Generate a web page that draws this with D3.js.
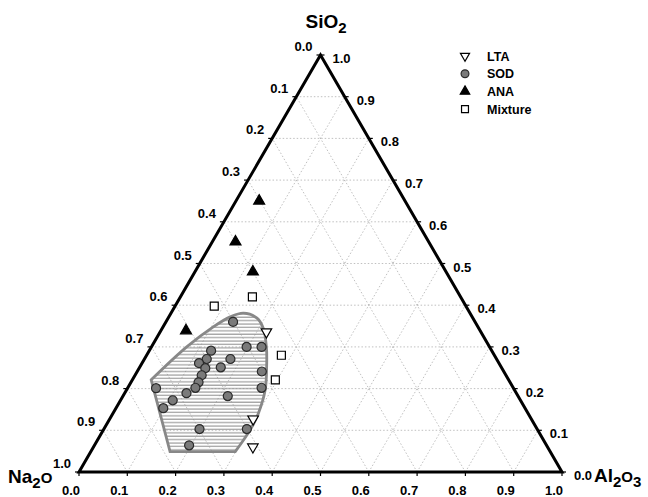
<!DOCTYPE html>
<html lang="en">
<head>
<meta charset="UTF-8">
<title>Ternary diagram Na2O - Al2O3 - SiO2</title>
<style>
  body { margin: 0; background: #fff; }
  svg { display: block; }
  text { font-family: "Liberation Sans", Arial, sans-serif; font-weight: bold; fill: #000; }
  .grid { stroke: #b0b0b0; stroke-width: 0.8; stroke-dasharray: 1.5,2; fill: none; }
  .edge { stroke: #000; stroke-width: 3; fill: none; stroke-linejoin: miter; }
  .tick { stroke: #000; stroke-width: 1.2; }
  .tlabel { font-size: 13px; }
  .title { font-size: 19px; }
</style>
</head>
<body>
<svg width="648" height="497"></svg>
<script src="https://d3js.org/d3.v7.min.js"></script>
<script>
// compositions as [Na2O, Al2O3, SiO2] mole fractions
const lta = [
  [0.444, 0.220, 0.336],
  [0.576, 0.297, 0.127],
  [0.610, 0.330, 0.060]
];
const sod = [
  [0.501, 0.139, 0.360], [0.503, 0.197, 0.300], [0.472, 0.228, 0.300],
  [0.581, 0.128, 0.291], [0.600, 0.129, 0.271], [0.621, 0.118, 0.261],
  [0.551, 0.178, 0.271], [0.581, 0.168, 0.251], [0.614, 0.137, 0.249],
  [0.630, 0.138, 0.232], [0.501, 0.258, 0.241], [0.645, 0.140, 0.215],
  [0.658, 0.140, 0.202], [0.740, 0.059, 0.201], [0.683, 0.128, 0.189],
  [0.521, 0.277, 0.202], [0.601, 0.217, 0.182], [0.720, 0.108, 0.172],
  [0.749, 0.098, 0.153], [0.601, 0.296, 0.103], [0.699, 0.198, 0.103],
  [0.740, 0.196, 0.064]
];
const ana = [
  [0.302, 0.048, 0.650],
  [0.400, 0.048, 0.552],
  [0.400, 0.120, 0.480],
  [0.609, 0.052, 0.339]
];
const mixture = [
  [0.521, 0.081, 0.398],
  [0.431, 0.149, 0.420],
  [0.441, 0.279, 0.280],
  [0.483, 0.296, 0.221]
];
// outline of the SOD field (curved part, then straight bottom)
const sodField = [
  [0.740, 0.039, 0.221], [0.627, 0.073, 0.300], [0.548, 0.104, 0.348],
  [0.501, 0.127, 0.372], [0.469, 0.150, 0.381], [0.447, 0.184, 0.369],
  [0.446, 0.209, 0.345], [0.462, 0.238, 0.300], [0.485, 0.262, 0.253],
  [0.516, 0.287, 0.197], [0.558, 0.301, 0.141], [0.595, 0.304, 0.101],
  [0.652, 0.299, 0.049]
];
const sodFieldBase = [0.787, 0.164, 0.049];

const tickValues = d3.range(0, 11).map(d => d / 10);
const gridValues = d3.range(1, 10).map(d => d / 10);

const svg = d3.select("svg");

// scales: x from Al2O3 + SiO2/2, y from SiO2
const x = d3.scaleLinear().domain([0, 1]).range([79, 562]);
const y = d3.scaleLinear().domain([0, 1]).range([472, 55]);
const proj = d => [x(d[1] + d[2] / 2), y(d[2])];

// hatch pattern
const defs = svg.append("defs");
const pat = defs.append("pattern")
    .attr("id", "hatch")
    .attr("patternUnits", "userSpaceOnUse")
    .attr("width", 10).attr("height", 3.4);
pat.append("line")
    .attr("x1", 0).attr("x2", 10).attr("y1", 1).attr("y2", 1)
    .attr("stroke", "#888").attr("stroke-width", 1);

// grid lines
const gridLines = [];
gridValues.forEach(v => {
  gridLines.push([[1 - v, 0, v], [0, 1 - v, v]]);   // SiO2 const
  gridLines.push([[1 - v, v, 0], [0, v, 1 - v]]);   // Al2O3 const
  gridLines.push([[v, 1 - v, 0], [v, 0, 1 - v]]);   // Na2O const
});
svg.append("g").selectAll("line").data(gridLines).join("line")
    .attr("class", "grid")
    .attr("x1", d => proj(d[0])[0]).attr("y1", d => proj(d[0])[1])
    .attr("x2", d => proj(d[1])[0]).attr("y2", d => proj(d[1])[1]);

// SOD field
const fieldLine = d3.line().curve(d3.curveCatmullRom.alpha(0.5));
const fieldPath = fieldLine(sodField.map(proj)) +
    "L" + proj(sodFieldBase).join(",") + "Z";
svg.append("path")
    .attr("d", fieldPath)
    .attr("fill", "url(#hatch)")
    .attr("stroke", "#888")
    .attr("stroke-width", 2.8);

// triangle edges
const corners = [[1, 0, 0], [0, 1, 0], [0, 0, 1]];
svg.append("path")
    .attr("class", "edge")
    .attr("d", "M" + corners.map(d => proj(d).join(",")).join("L") + "Z");

// ticks and labels
const gTicks = svg.append("g");
tickValues.forEach(v => {
  // bottom: Al2O3
  let p = proj([1 - v, v, 0]);
  gTicks.append("line").attr("class", "tick")
      .attr("x1", p[0]).attr("y1", p[1]).attr("x2", p[0]).attr("y2", p[1] + 4);
  gTicks.append("text").attr("class", "tlabel")
      .attr("x", p[0] - 8).attr("y", 495).attr("text-anchor", "middle")
      .text(v.toFixed(1));
  // left: Na2O
  p = proj([v, 0, 1 - v]);
  gTicks.append("line").attr("class", "tick")
      .attr("x1", p[0]).attr("y1", p[1]).attr("x2", p[0] - 4).attr("y2", p[1]);
  gTicks.append("text").attr("class", "tlabel")
      .attr("x", p[0] - 8).attr("y", p[1] - 4).attr("text-anchor", "end")
      .text(v.toFixed(1));
  // right: SiO2
  p = proj([0, 1 - v, v]);
  gTicks.append("line").attr("class", "tick")
      .attr("x1", p[0]).attr("y1", p[1]).attr("x2", p[0] + 4).attr("y2", p[1]);
  gTicks.append("text").attr("class", "tlabel")
      .attr("x", p[0] + 12).attr("y", p[1] + 8).attr("text-anchor", "start")
      .text(v.toFixed(1));
});

// data points
const sym = d3.symbol();
const series = [
  { name: "LTA", data: lta, type: d3.symbolTriangle, size: 48, fill: "#fff", stroke: "#000", rot: 180 },
  { name: "SOD", data: sod, type: d3.symbolCircle, size: 64, fill: "#7a7a7a", stroke: "#2a2a2a", rot: 0 },
  { name: "ANA", data: ana, type: d3.symbolTriangle, size: 52, fill: "#000", stroke: "#000", rot: 0 },
  { name: "Mixture", data: mixture, type: d3.symbolSquare, size: 64, fill: "#fff", stroke: "#000", rot: 0 }
];
series.forEach(s => {
  svg.append("g").selectAll("path").data(s.data).join("path")
      .attr("d", sym.type(s.type).size(s.size)())
      .attr("transform", d => `translate(${proj(d)}) rotate(${s.rot})`)
      .attr("fill", s.fill)
      .attr("stroke", s.stroke)
      .attr("stroke-width", 1.2);
});

// legend
const legend = svg.append("g");
series.forEach((s, i) => {
  const ly = 56 + i * 17.7;
  legend.append("path")
      .attr("d", sym.type(s.type).size(s.size * 0.75)())
      .attr("transform", `translate(465,${ly}) rotate(${s.rot})`)
      .attr("fill", s.fill).attr("stroke", s.stroke).attr("stroke-width", 1.2);
  legend.append("text").attr("x", 487).attr("y", ly + 4.5)
      .style("font-size", "12.5px").text(s.name);
});

// axis titles
function title(parts, xx, yy, anchor) {
  const t = svg.append("text").attr("class", "title")
      .attr("x", xx).attr("y", yy).attr("text-anchor", anchor);
  parts.forEach(([str, sub]) => {
    t.append("tspan")
        .attr("dy", sub === 1 ? 5 : sub === -1 ? -5 : 0)
        .style("font-size", sub ? "15px" : null)
        .text(str);
  });
}
title([["SiO", 0], ["2", 1]], 326, 28, "middle");
title([["Na", 0], ["2", 1], ["O", -1]], 8, 483, "start");
title([["Al", 0], ["2", 1], ["O", -1], ["3", 1]], 594, 482, "start");
</script>
</body>
</html>
